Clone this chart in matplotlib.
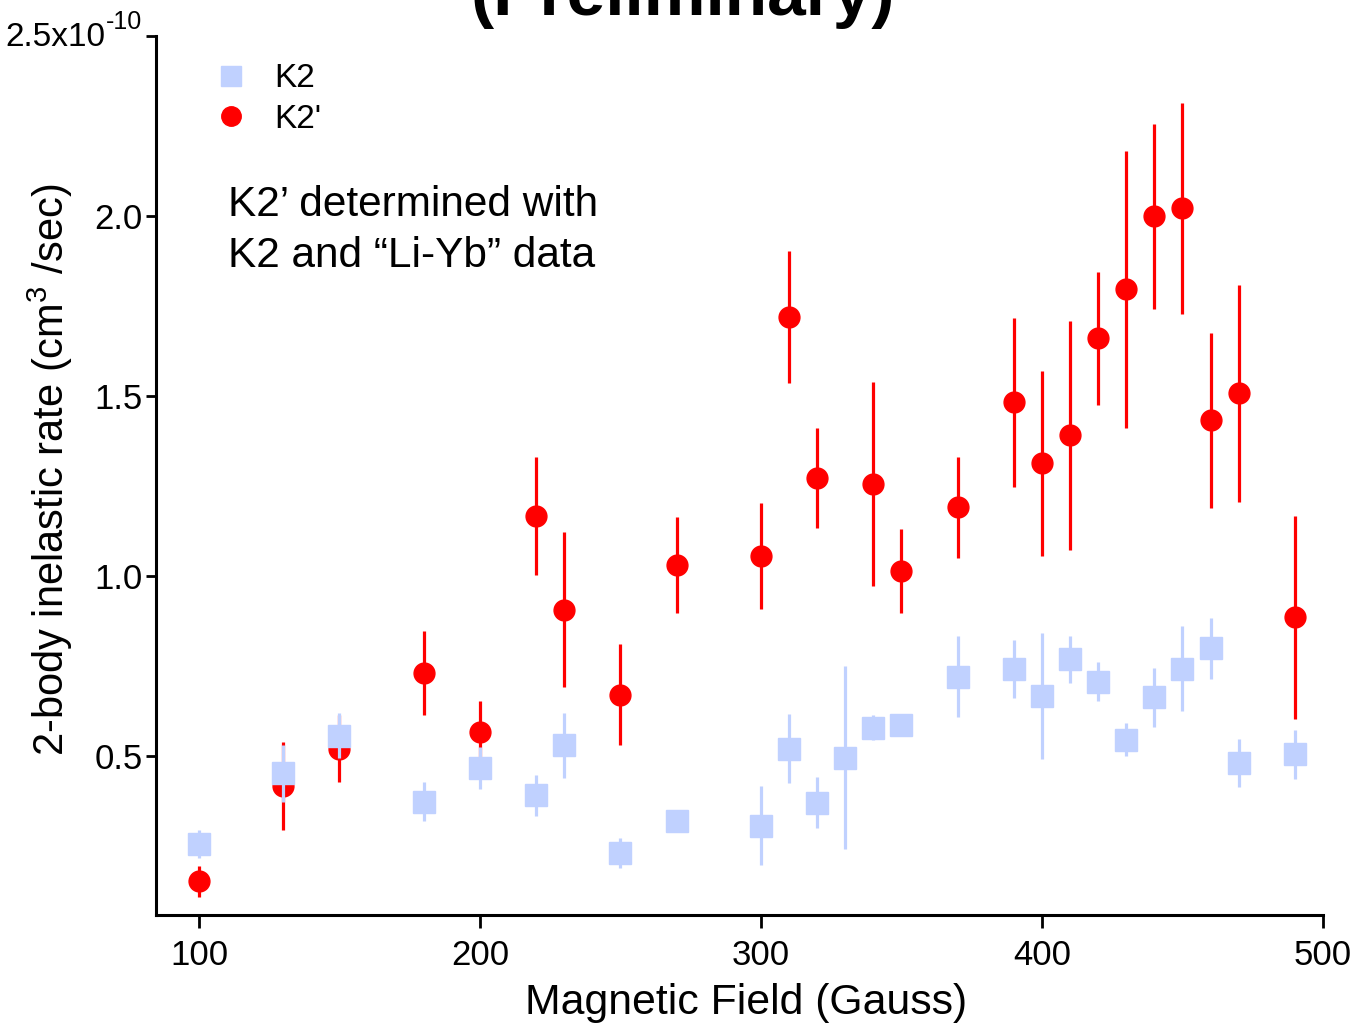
import matplotlib
matplotlib.use("Agg")
import matplotlib.pyplot as plt
from matplotlib.lines import Line2D

plt.rcParams['font.family'] = ['Liberation Sans', 'DejaVu Sans']
plt.rcParams['mathtext.fontset'] = 'custom'
plt.rcParams['mathtext.rm'] = 'Liberation Sans'
plt.rcParams['mathtext.it'] = 'Liberation Sans:italic'
plt.rcParams['mathtext.bf'] = 'Liberation Sans:bold'

# Magnetic field (Gauss) and rates in units of 1e-10 cm^3/s
field_k2 = [100, 130, 150, 180, 200, 220, 230, 250, 270, 300, 310, 320, 330,
            340, 350, 370, 390, 400, 410, 420, 430, 440, 450, 460, 470, 490]
rate_k2 = [0.256, 0.453, 0.558, 0.375, 0.467, 0.392, 0.531, 0.233, 0.320,
           0.308, 0.522, 0.372, 0.497, 0.580, 0.588, 0.722, 0.742, 0.667,
           0.770, 0.708, 0.547, 0.664, 0.744, 0.800, 0.481, 0.506]
err_k2 = [0.039, 0.079, 0.063, 0.055, 0.058, 0.058, 0.090, 0.042, 0.015,
          0.110, 0.095, 0.070, 0.255, 0.035, 0.015, 0.112, 0.080, 0.175,
          0.065, 0.053, 0.045, 0.083, 0.117, 0.085, 0.067, 0.068]

field_k2p = [100, 130, 150, 180, 200, 220, 230, 250, 270, 300, 310, 320,
             340, 350, 370, 390, 400, 410, 420, 430, 440, 450, 460, 470, 490]
rate_k2p = [0.153, 0.417, 0.522, 0.731, 0.567, 1.167, 0.908, 0.672, 1.031,
            1.056, 1.719, 1.272, 1.256, 1.014, 1.192, 1.483, 1.314, 1.392,
            1.661, 1.797, 2.000, 2.022, 1.433, 1.508, 0.886]
err_k2p = [0.042, 0.122, 0.093, 0.117, 0.086, 0.163, 0.214, 0.139, 0.133,
           0.147, 0.183, 0.139, 0.283, 0.117, 0.140, 0.234, 0.257, 0.318,
           0.184, 0.385, 0.257, 0.293, 0.243, 0.301, 0.282]

yticks = [0.5, 1.0, 1.5, 2.0, 2.5]
ytick_labels = ['0.5', '1.0', '1.5', '2.0', '']
top_mantissa = '2.5x10'
top_exponent = '-10'
xticks = [100, 200, 300, 400, 500]

RED = '#FF0000'
BLUE = '#C0D1FF'

W, H = 1352, 1027
fig = plt.figure(figsize=(W / 100, H / 100), dpi=100)
ax = fig.add_axes([156 / W, 1 - 915 / H, (1323 - 156) / W, (915 - 36) / H])

ax.errorbar(field_k2p, rate_k2p, yerr=err_k2p, fmt='o', color=RED, ms=15,
            elinewidth=2.3, capsize=0, zorder=2)
ax.errorbar(field_k2, rate_k2, yerr=err_k2, fmt='s', color=BLUE, ms=16,
            elinewidth=2.3, capsize=0, zorder=3)

ax.set_xlim(84.7, 500)
ax.set_ylim(0.06, 2.5)
ax.set_xticks(xticks)
ax.set_yticks(yticks)
ax.set_yticklabels(ytick_labels)

for s in ['top', 'right']:
    ax.spines[s].set_visible(False)
for s in ['left', 'bottom']:
    ax.spines[s].set_linewidth(2.2)
ax.tick_params(axis='x', direction='out', length=9, width=2.0,
               labelsize=25, pad=8)
ax.tick_params(axis='y', direction='out', length=7.5, width=2.0,
               labelsize=25, pad=2)

# top y tick label with a raised exponent
fig.text(105 / W, 1 - 38 / H, top_mantissa, fontsize=24, ha='right',
         va='center')
fig.text(106 / W, 1 - 22 / H, top_exponent, fontsize=18, ha='left',
         va='center')

ax.set_xlabel('Magnetic Field (Gauss)', fontsize=30.8)
ax.xaxis.set_label_coords(0.5 + 7 / 1167, -(1003 - 915) / 879,
                          transform=ax.transAxes)
ax.xaxis.label.set_va('center')
ax.set_ylabel(r'2-body inelastic rate (cm$^{\mathregular{3}}$ /sec)',
              fontsize=30)
ax.yaxis.set_label_coords(-(156 - 50) / 1167, (915 - 470) / 879)
ax.yaxis.label.set_va('center')

handles = [Line2D([], [], marker='s', ls='none', color=BLUE, ms=14),
           Line2D([], [], marker='o', ls='none', color=RED, ms=14)]
ax.legend(handles, ['K2', "K2'"], loc='upper left',
          bbox_to_anchor=(0.0246, 0.984), frameon=False, fontsize=24,
          handletextpad=0.28, labelspacing=0.28, borderaxespad=0)

ax.text(0.062, 0.83, 'K2\u2019 determined with\nK2 and \u201cLi-Yb\u201d data',
        transform=ax.transAxes, fontsize=30.5, va='top', ha='left',
        linespacing=1.33)

fig.text(0.505, 1 - 15 / H, '(Preliminary)', fontsize=50,
         fontweight='bold', ha='center', va='baseline')

fig.savefig('out.png', dpi=100)
